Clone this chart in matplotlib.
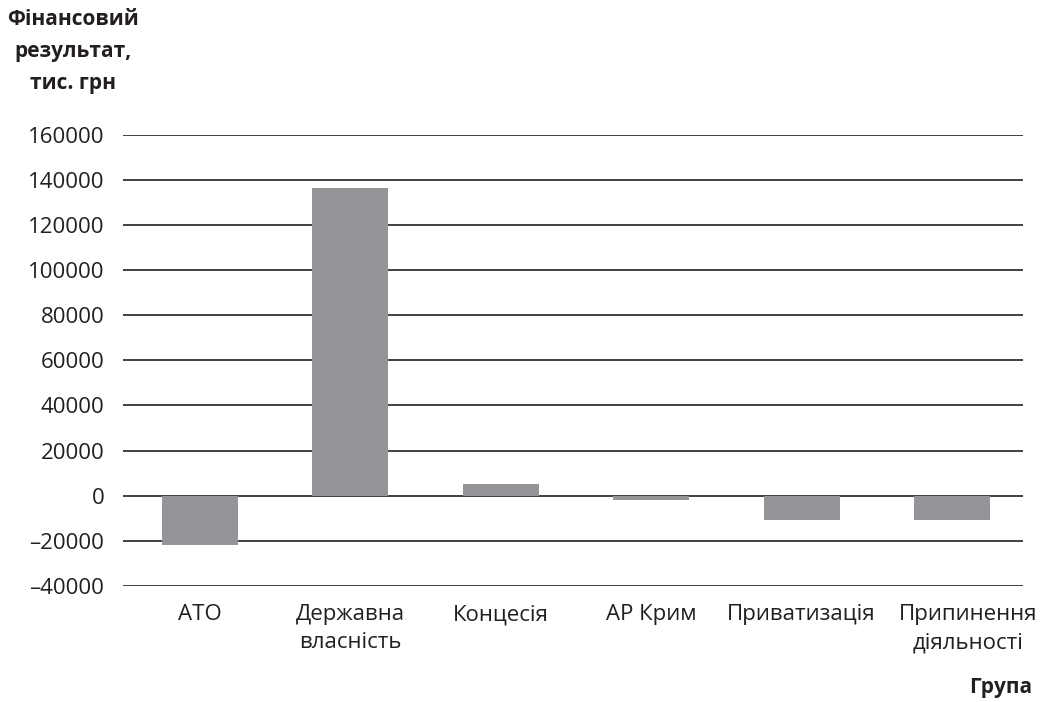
import matplotlib
matplotlib.use("Agg")
import matplotlib.pyplot as plt
from matplotlib.transforms import ScaledTranslation

# Financial result by group, thousand UAH
categories = ["АТО", "Державна\nвласність", "Концесія", "АР Крим", "Приватизація", "Припинення\nдіяльності"]
values = [-22000, 136500, 5300, -2100, -10600, -10600]
yticks = [-40000, -20000, 0, 20000, 40000, 60000, 80000, 100000, 120000, 140000, 160000]
ytick_labels = ["\u201340000", "\u201320000", "0", "20000", "40000", "60000", "80000",
                "100000", "120000", "140000", "160000"]

plt.rcParams["font.family"] = ["Open Sans", "DejaVu Sans"]
text_color = "#231f20"
bar_color = "#939598"

fig = plt.figure(figsize=(10.42, 7.02), dpi=100)
ax = fig.add_axes([123 / 1042, 1 - 586 / 702, 900 / 1042, (586 - 134.7) / 702])

x = list(range(len(categories)))
ax.bar(x, values, width=0.505, color=bar_color, zorder=3)

ax.set_ylim(-40000, 160000)
ax.set_xlim(-0.512, 5.472)
ax.set_yticks(yticks)
ax.set_yticklabels(ytick_labels)
ax.set_xticks(x)
ax.set_xticklabels(categories, linespacing=1.45)

for t in yticks:
    ax.axhline(t, color=text_color, lw=1.2, zorder=1)

for s in ax.spines.values():
    s.set_visible(False)
ax.tick_params(axis="y", length=0, pad=13.5, labelsize=16, labelcolor=text_color)
ax.tick_params(axis="x", length=0, pad=13, labelsize=16, labelcolor=text_color)

# nudge the last category label to the right so it clears its neighbour
last = ax.get_xticklabels()[-1]
last.set_transform(last.get_transform() + ScaledTranslation(16 / 100, 0, fig.dpi_scale_trans))

fig.text(73 / 1042, 1 - 9 / 702, "Фінансовий\nрезультат,\nтис. грн", ha="center", va="top",
         fontsize=15, fontweight="bold", color=text_color, linespacing=1.7)
fig.text(1032 / 1042, 1 - 688 / 702, "Група", ha="right", va="center",
         fontsize=15, fontweight="bold", color=text_color)

fig.savefig("out.png", dpi=100)
